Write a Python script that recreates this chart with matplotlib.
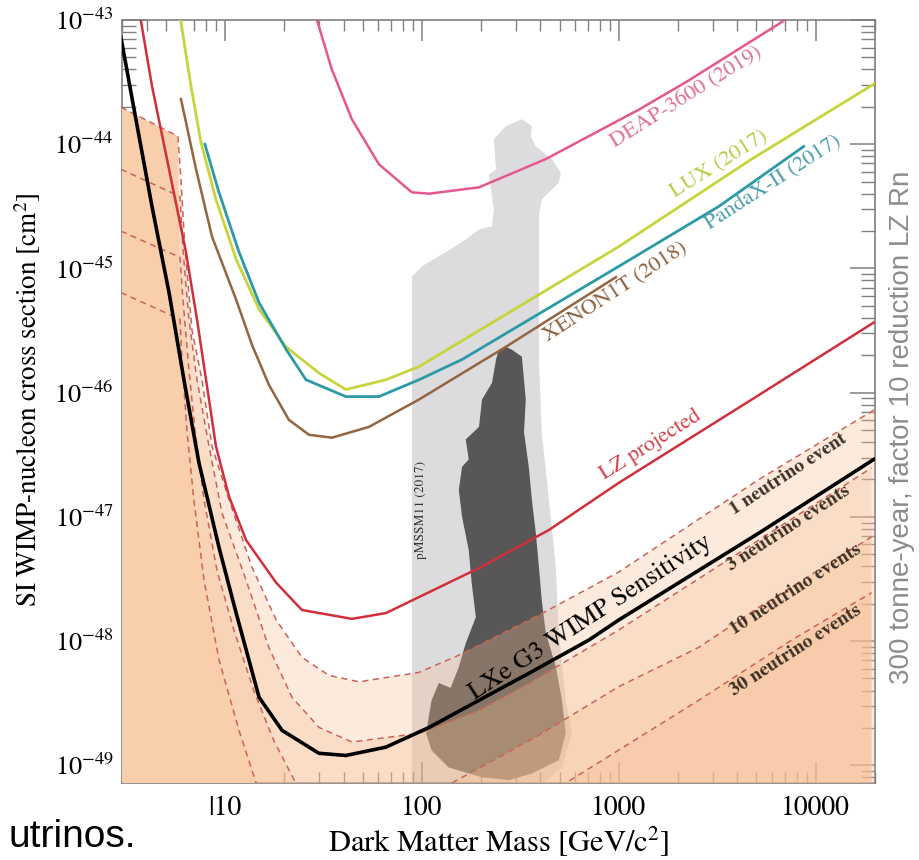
import matplotlib
matplotlib.use('Agg')
import matplotlib.pyplot as plt
from matplotlib.ticker import NullFormatter

plt.rcParams['font.family'] = 'STIXGeneral'
plt.rcParams['mathtext.fontset'] = 'stix'

# Grenzkurven (Masse in GeV, Wirkungsquerschnitt in cm^2)
deap_mass = [28.8, 34.9, 44.1, 60.5, 89, 109, 195, 426, 1264, 2190, 6490, 7300]
deap_xs = [1.1e-43, 4.0e-44, 1.59e-44, 6.9e-45, 4.1e-45, 4.0e-45, 4.5e-45, 7.6e-45, 1.9e-44, 3.16e-44, 9.3e-44, 1.06e-43]

lux_mass = [5.9, 6.72, 7.55, 9.0, 11.4, 14.9, 20.4, 30.0, 41.1, 65.6, 96.6, 1000, 4730, 19700]
lux_xs = [1.1e-43, 2.94e-44, 1.04e-44, 3.6e-45, 1.18e-45, 4.7e-46, 2.34e-46, 1.44e-46, 1.06e-46, 1.27e-46, 1.62e-46, 1.5e-45, 7.6e-45, 3.05e-44]

panda_mass = [7.91, 9.32, 11.8, 14.9, 20.4, 25.8, 41.1, 60.5, 96.6, 160, 1000, 3220, 8690]
panda_xs = [1.0e-44, 4.1e-45, 1.35e-45, 5.3e-46, 2.24e-46, 1.27e-46, 9.3e-47, 9.3e-47, 1.27e-46, 1.85e-46, 1.04e-45, 3.16e-45, 9.6e-45]

xenon_mass = [5.98, 7.13, 8.59, 11.4, 13.7, 16.7, 21.1, 26.7, 34.9, 53.8, 96.6, 267, 966]
xenon_xs = [2.31e-44, 6.3e-45, 1.81e-45, 5.6e-46, 2.44e-46, 1.16e-46, 6.05e-47, 4.58e-47, 4.34e-47, 5.3e-47, 8.8e-47, 2.34e-46, 8.5e-46]

lz_mass = [3.7, 4.26, 5.20, 6.34, 7.21, 8.30, 9.0, 10.5, 12.8, 18.2, 24.6, 44.1, 65.6, 96.6, 202, 442, 1000, 4730, 19700]
lz_xs = [1.1e-43, 2.94e-44, 6.3e-45, 1.35e-45, 3.9e-46, 8.8e-47, 3.7e-47, 1.45e-47, 6.5e-48, 2.95e-48, 1.78e-48, 1.51e-48, 1.68e-48, 2.26e-48, 3.98e-48, 7.85e-48, 1.88e-47, 8.8e-47, 3.67e-46]

g3_mass = [2.96, 3.53, 4.26, 5.20, 6.19, 7.38, 9.32, 11.4, 14.9, 19.5, 30.0, 41.1, 65.6, 109, 195, 349, 705, 1000, 5140, 19700]
g3_xs = [7.3e-44, 1.59e-44, 3.16e-45, 6.4e-46, 1.27e-46, 2.72e-47, 5.7e-48, 1.68e-48, 3.53e-49, 1.91e-49, 1.25e-49, 1.2e-49, 1.40e-49, 2.02e-49, 3.34e-49, 5.5e-49, 1.02e-48, 1.48e-48, 7.4e-48, 2.9e-47]

# Neutrino-Ereignisse (1, 3, 10, 30)
nu1_mass = [2.96, 5.77, 5.98, 6.27, 6.80, 7.64, 8.59, 10.5, 13.7, 18.2, 24.6, 33.7, 47.9, 96.6, 154, 393, 1000, 5140, 19900]
nu1_xs = [1.99e-44, 1.16e-44, 5.2e-45, 1.42e-45, 3.2e-46, 1.27e-46, 3.7e-47, 1.37e-47, 3.95e-48, 1.48e-48, 7.4e-49, 5.3e-49, 4.7e-49, 5.6e-49, 7.7e-49, 1.62e-48, 3.6e-48, 2.0e-47, 7.3e-47]

nu3_mass = [2.96, 5.91, 6.12, 6.56, 7.21, 8.30, 9.65, 12.8, 16.7, 21.9, 30.0, 44.1, 96.6, 195, 349, 1000, 5140, 19200]
nu3_xs = [6.3e-45, 3.8e-45, 1.42e-45, 3.9e-46, 1.27e-46, 3.7e-47, 1.08e-47, 3.1e-48, 8.9e-49, 3.53e-49, 2.02e-49, 1.54e-49, 1.81e-49, 2.78e-49, 4.58e-49, 1.23e-48, 6.5e-48, 2.48e-47]

nu10_mass = [2.96, 5.91, 6.12, 6.56, 7.04, 7.83, 9.11, 11.1, 14.0, 17.7, 22.9, 44.1, 96.6, 142, 393, 1000, 2548, 5140, 19200]
nu10_xs = [2.0e-45, 1.23e-45, 5.6e-46, 1.54e-46, 5.0e-47, 1.37e-47, 3.7e-48, 1.23e-48, 4.0e-49, 1.58e-49, 7.2e-50, 5.0e-50, 5.7e-50, 7.2e-50, 1.75e-49, 4.3e-49, 8.9e-49, 1.87e-48, 6.9e-48]

nu30_mass = [2.96, 5.91, 6.05, 6.41, 6.95, 7.83, 9.32, 11.8, 14.4, 21.1, 44.1, 137, 538, 2548, 7550, 19200]
nu30_xs = [6.4e-46, 3.9e-46, 1.85e-46, 5.0e-47, 1.37e-47, 3.1e-48, 7.1e-49, 1.9e-49, 7.2e-50, 2.5e-50, 1.55e-50, 2.0e-50, 7.2e-50, 3.34e-49, 1.02e-48, 2.45e-48]

# pMSSM11 Bereiche (Umriss)
pmssm_light_mass = [89, 89, 100, 132, 167, 195, 227, 232, 219, 238, 232, 267, 322, 362, 357, 379, 457, 508, 496, 406, 393, 393, 393, 406, 442, 479, 496, 538, 577, 514, 416, 300, 89]
pmssm_light_xs = [5e-50, 8.6e-46, 1.04e-45, 1.35e-45, 1.71e-45, 2.06e-45, 2.18e-45, 2.99e-45, 5.7e-45, 6.3e-45, 1.1e-44, 1.4e-44, 1.59e-44, 1.4e-44, 1.16e-44, 9.6e-45, 7.6e-45, 5.9e-45, 4.9e-45, 3.6e-45, 2.63e-45, 1.18e-45, 1.85e-46, 4.8e-47, 1.37e-47, 3.95e-48, 1.16e-48, 3.34e-49, 1.81e-49, 9.6e-50, 7.2e-50, 5e-50, 5e-50]

pmssm_dark_mass = [267, 286, 322, 337, 330, 349, 362, 379, 393, 406, 426, 479, 514, 538, 496, 362, 277, 202, 137, 112, 105, 112, 122, 140, 154, 167, 188, 179, 173, 160, 154, 160, 173, 167, 195, 202, 227, 238, 246]
pmssm_dark_xs = [2.34e-46, 2.22e-46, 1.95e-46, 8.8e-47, 4.8e-47, 2.53e-47, 1.37e-47, 7.4e-48, 3.95e-48, 2.14e-48, 1.16e-48, 6.2e-49, 3.34e-49, 1.81e-49, 1.1e-49, 8.6e-50, 7.6e-50, 8.0e-50, 9.6e-50, 1.32e-49, 1.81e-49, 3.34e-49, 4.6e-49, 4.2e-49, 6.2e-49, 9.6e-49, 1.56e-48, 2.94e-48, 5.4e-48, 1.0e-47, 1.65e-47, 2.53e-47, 2.9e-47, 4.2e-47, 5.3e-47, 8.8e-47, 1.2e-46, 1.85e-46, 2.22e-46]

x_ticks = [10, 100, 1000, 10000]
x_tick_labels = ['|10', '100', '1000', '10000']

fig = plt.figure(figsize=(9.2, 8.6), dpi=100)
ax = fig.add_axes([0.1326, 0.0895, 0.8185, 0.8872])
ax.set_xscale('log')
ax.set_yscale('log')
ax.set_xlim(3, 2e4)
ax.set_ylim(7.2e-50, 1e-43)

# pMSSM11 Flaechen
ax.fill(pmssm_light_mass, pmssm_light_xs, color='#dcdcde', lw=0, zorder=1)
ax.fill(pmssm_dark_mass, pmssm_dark_xs, color='#585656', lw=0, zorder=2)

# Neutrino-Boden: halbtransparente Schichten
nu_curves = [(nu1_mass, nu1_xs), (nu3_mass, nu3_xs), (nu10_mass, nu10_xs), (nu30_mass, nu30_xs)]
for m, s in nu_curves:
    ax.fill_between(m, s, 1e-55, color='#f7be91', alpha=0.3, lw=0, zorder=3)

# kleiner Massenbereich (8B) voll eingefaerbt
block_mass = nu1_mass[:2] + nu30_mass[1:10]
block_xs = nu1_xs[:2] + nu30_xs[1:10]
ax.fill_between(block_mass, block_xs, 1e-55, color='#f9ceab', lw=0, zorder=3.5)

for m, s in nu_curves:
    ax.plot(m, s, color='#c8645a', lw=1.1, ls=(0, (4, 3)), zorder=4)

ax.plot(deap_mass, deap_xs, color='#e6578f', lw=1.8, zorder=5)
ax.plot(lux_mass, lux_xs, color='#c8d43c', lw=2.0, zorder=5)
ax.plot(panda_mass, panda_xs, color='#2b9aa6', lw=2.0, zorder=5)
ax.plot(xenon_mass, xenon_xs, color='#95653f', lw=1.8, zorder=5)
ax.plot(lz_mass, lz_xs, color='#d0303c', lw=1.8, zorder=5)
ax.plot(g3_mass, g3_xs, color='black', lw=2.6, zorder=6)

# Beschriftungen an den Kurven
kw = dict(ha='center', va='center', rotation_mode='anchor', zorder=7)
nu_kw = dict(color='#3d3025', fontsize=14, fontweight='bold', rotation=33)
ax.text(2213, 2.39e-44, 'DEAP-3600 (2019)', rotation=32, color='#e0709a', fontsize=16, **kw)
ax.text(3220, 6.9e-45, 'LUX (2017)', rotation=32, color='#bccb45', fontsize=16, **kw)
ax.text(6120, 4.94e-45, 'PandaX-II (2017)', rotation=33, color='#4e9eab', fontsize=16, **kw)
ax.text(966, 6.4e-46, 'XENON1T (2018)', rotation=33, color='#8b6040', fontsize=16, **kw)
ax.text(1452, 3.81e-47, 'LZ projected', rotation=32, color='#d04048', fontsize=16, **kw)
ax.text(721, 1.56e-48, 'LXe G3 WIMP Sensitivity', rotation=33, color='black', fontsize=19, **kw)
ax.text(7300, 2.19e-47, '1 neutrino event', **nu_kw, **kw)
ax.text(7300, 8.15e-48, '3 neutrino events', **nu_kw, **kw)
ax.text(7910, 2.58e-48, '10 neutrino events', **nu_kw, **kw)
ax.text(7910, 8.45e-49, '30 neutrino events', **nu_kw, **kw)
ax.text(98.9, 1.14e-47, 'pMSSM11 (2017)', rotation=90, color='#333333', fontsize=9.5, **kw)

# Achsen
ax.set_xticks(x_ticks)
ax.set_xticklabels(x_tick_labels)
ax.xaxis.set_minor_formatter(NullFormatter())
ax.tick_params(which='both', direction='in', top=True, right=True, color='#808080')
ax.tick_params(axis='x', which='major', length=15, width=1.1, pad=9, labelsize=20)
ax.tick_params(axis='x', which='minor', length=8, width=1.0)
ax.tick_params(axis='y', which='major', length=18, width=1.1, pad=6, labelsize=19)
ax.tick_params(axis='y', which='minor', length=10, width=1.0)
for sp in ax.spines.values():
    sp.set_color('#7f7f7f')
    sp.set_linewidth(1.2)

ax.set_xlabel('Dark Matter Mass [GeV/c$^2$]', fontsize=22, va='baseline')
ax.xaxis.set_label_coords(0.5, -0.0904)
ax.set_ylabel('SI WIMP-nucleon cross section [cm$^2$]', fontsize=19.5)
ax.yaxis.set_label_coords(-0.105, 0.503)

# Text vom Folienrand
fig.text(902 / 920, 1 - 427 / 860, '300 tonne-year, factor 10 reduction LZ Rn', rotation=90,
         ha='center', va='center', fontsize=20, color='#8c8c8c', family='Liberation Sans')
fig.text(136 / 920, 13 / 860, 'utrinos.', ha='right', va='baseline', fontsize=28,
         color='black', family='Liberation Sans')

plt.savefig('out.png', dpi=100)
plt.close()
